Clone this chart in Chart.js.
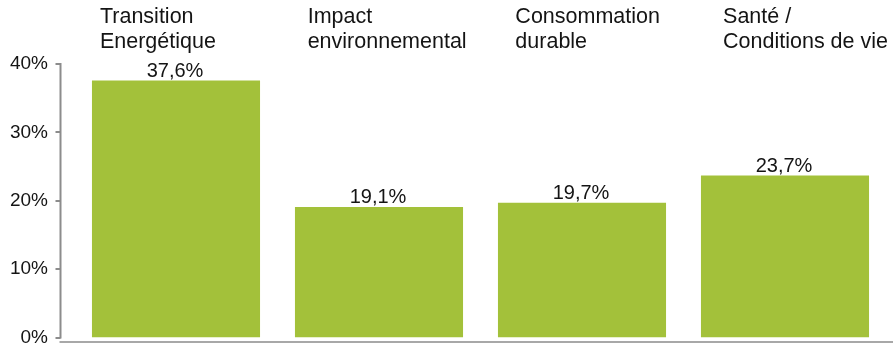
<!DOCTYPE html>
<html>
<head>
<meta charset="utf-8">
<script src="https://cdn.jsdelivr.net/npm/chart.js@4/dist/chart.umd.min.js"></script>
<style>
  html, body { margin: 0; padding: 0; background: #fff; }
  #wrap { width: 893px; height: 344px; }
</style>
</head>
<body>
<div id="wrap"><canvas id="chart"></canvas></div>
<script>
const categories = [
    ['Transition', 'Energétique'],
    ['Impact', 'environnemental'],
    ['Consommation', 'durable'],
    ['Santé /', 'Conditions de vie']
];
const shares = [37.6, 19.1, 19.7, 23.7];
const yTicks = [0, 10, 20, 30, 40];

const barColor = '#a3c13a';
const textColor = '#141414';
const axisColor = '#8c8c8c';
const fontFamily = "'Liberation Sans', Arial, sans-serif";

// axis lines, value labels and the category headers above the bars
const decorations = {
    id: 'decorations',
    afterDraw(chart) {
        const ctx = chart.ctx;
        const area = chart.chartArea;
        const yScale = chart.scales.y;
        const axisX = area.left - 14;

        ctx.save();
        ctx.strokeStyle = axisColor;
        ctx.lineWidth = 2;
        ctx.beginPath();
        ctx.moveTo(axisX, area.top - 1);
        ctx.lineTo(axisX, area.bottom + 1);
        yTicks.forEach(v => {
            const y = Math.round(yScale.getPixelForValue(v));
            ctx.moveTo(axisX - 5, y);
            ctx.lineTo(axisX, y);
        });
        ctx.stroke();

        // x axis line, a bit below the zero line
        ctx.strokeStyle = '#a8a8a8';
        ctx.beginPath();
        ctx.moveTo(axisX - 1, area.bottom + 4.5);
        ctx.lineTo(chart.width, area.bottom + 4.5);
        ctx.stroke();

        const bars = chart.getDatasetMeta(0).data;
        ctx.fillStyle = textColor;

        ctx.font = '20px ' + fontFamily;
        ctx.textAlign = 'center';
        ctx.textBaseline = 'alphabetic';
        bars.forEach((bar, i) => {
            const txt = shares[i].toFixed(1).replace('.', ',') + '%';
            ctx.fillText(txt, bar.x - 1, bar.y - 3.5);
        });

        ctx.font = '21.5px ' + fontFamily;
        ctx.textAlign = 'left';
        bars.forEach((bar, i) => {
            const left = bar.x - bar.width / 2 + 8 + i * 4.7;
            categories[i].forEach((line, j) => {
                ctx.fillText(line, left, 23 + j * 24.5);
            });
        });
        ctx.restore();
    }
};

new Chart(document.getElementById('chart'), {
    type: 'bar',
    data: {
        labels: categories.map(c => c.join(' ')),
        datasets: [{
            data: shares,
            backgroundColor: barColor,
            borderWidth: 0,
            categoryPercentage: 1,
            barPercentage: 0.828
        }]
    },
    options: {
        responsive: true,
        maintainAspectRatio: false,
        animation: false,
        layout: {
            padding: { top: 64, bottom: 6.5, left: 0, right: 6.5 }
        },
        plugins: {
            legend: { display: false },
            tooltip: { enabled: false }
        },
        scales: {
            x: {
                display: false
            },
            y: {
                min: 0,
                max: 40,
                afterFit(scale) {
                    scale.width = 74.5;
                    scale.paddingTop = 0;
                    scale.paddingBottom = 0;
                },
                afterBuildTicks(scale) {
                    scale.ticks = yTicks.map(v => ({ value: v }));
                },
                grid: { display: false, drawTicks: false },
                border: { display: false },
                ticks: {
                    padding: 26.5,
                    color: textColor,
                    font: { family: fontFamily, size: 19 },
                    callback: v => v + '%'
                }
            }
        }
    },
    plugins: [decorations]
});
</script>
</body>
</html>
